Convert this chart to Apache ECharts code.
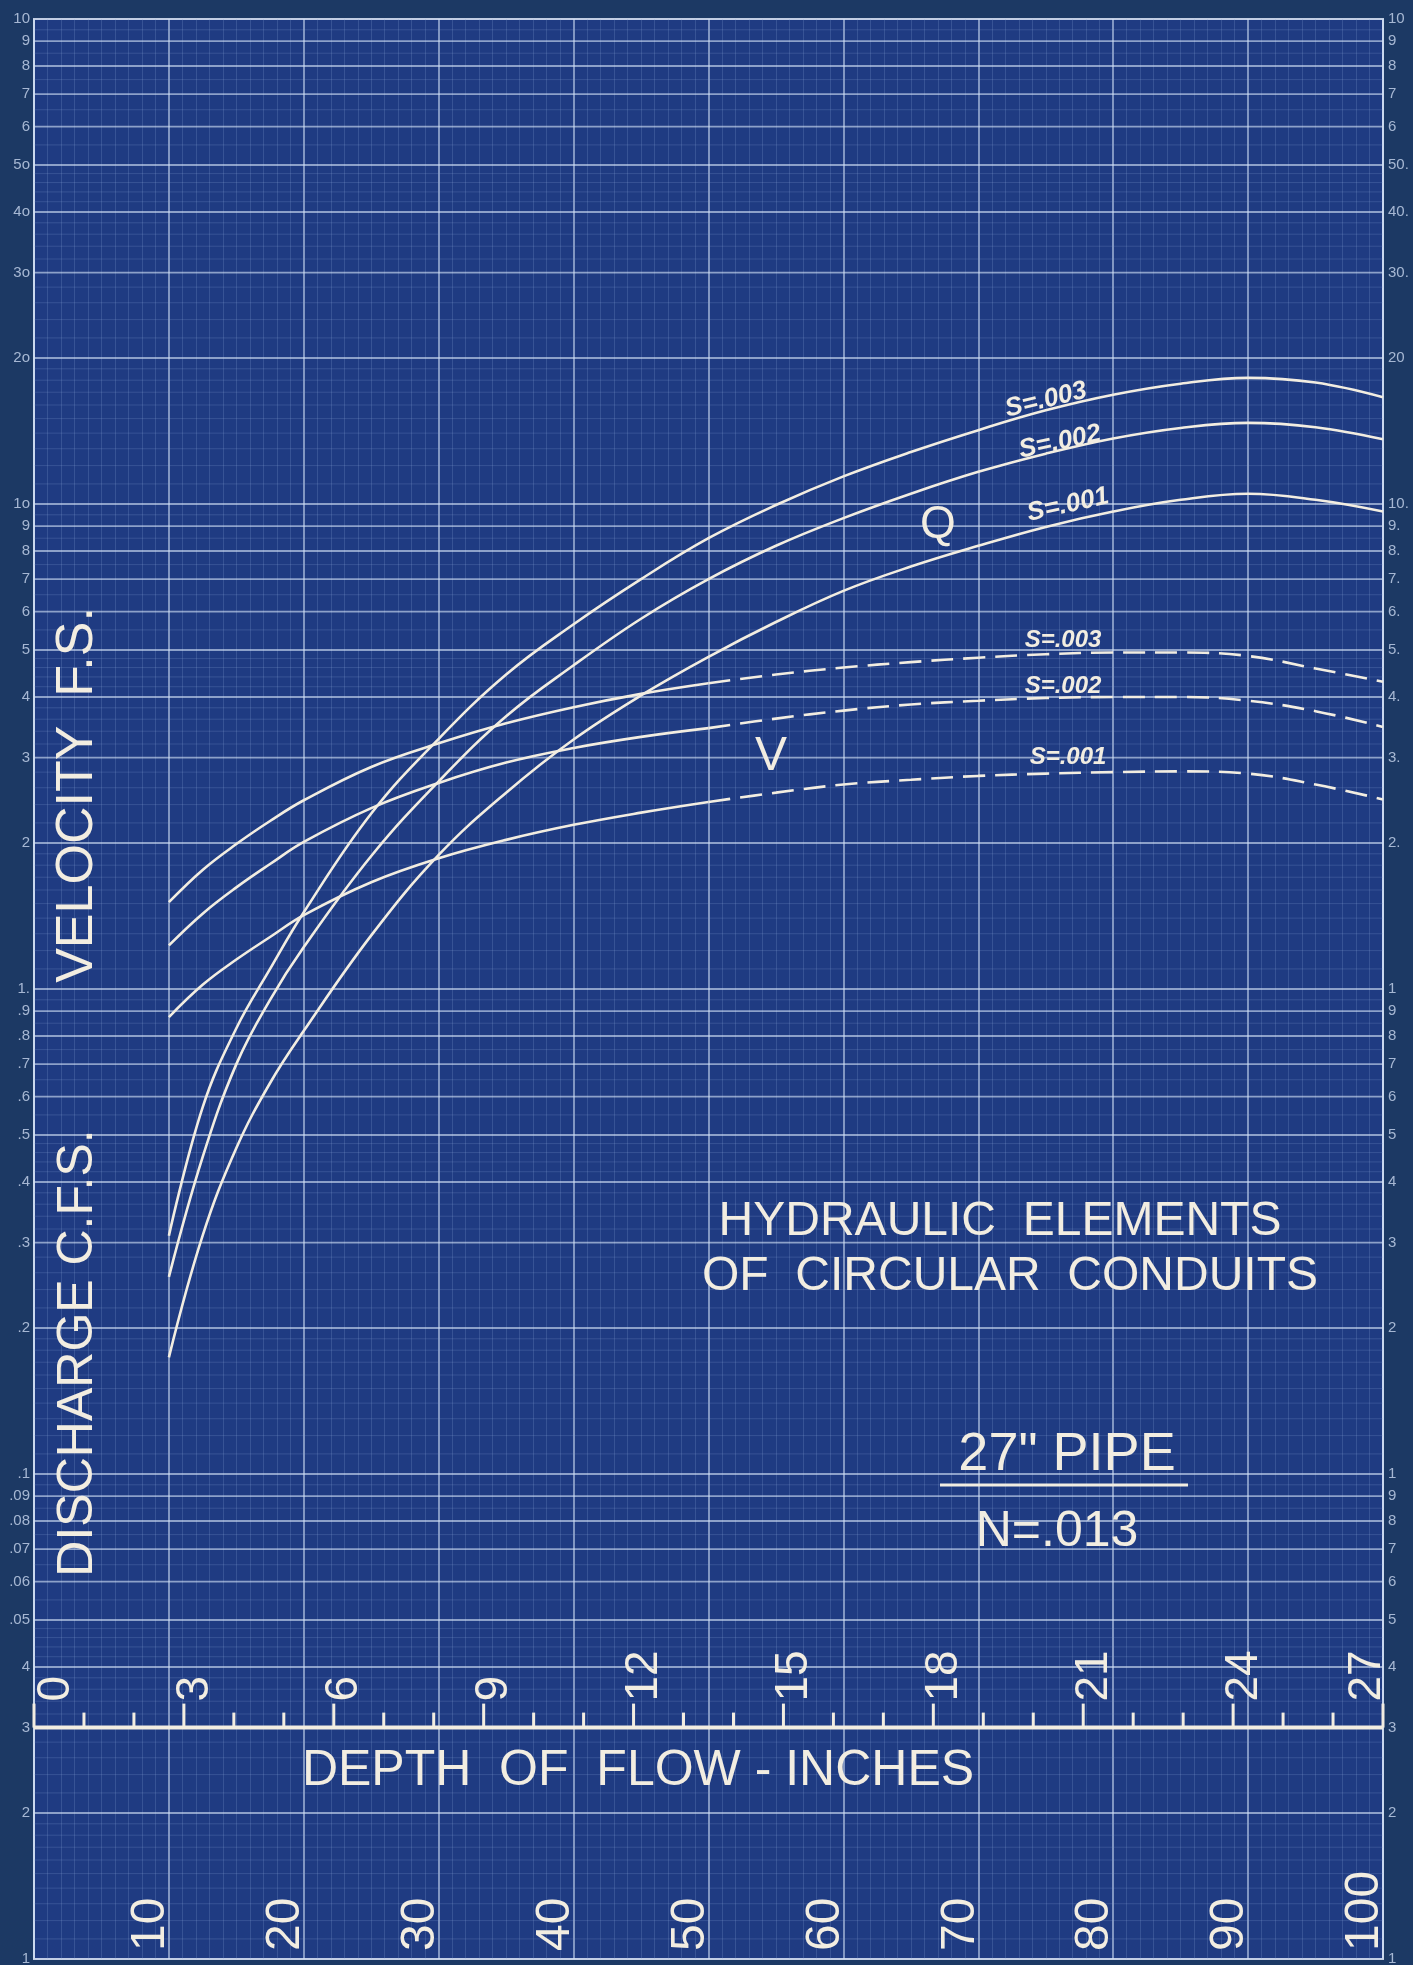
<!DOCTYPE html>
<html>
<head>
<meta charset="utf-8">
<title>Hydraulic Elements of Circular Conduits – 27" Pipe</title>
<script src="https://cdn.jsdelivr.net/npm/echarts@6/dist/echarts.min.js"></script>
<style>
  html, body { margin: 0; padding: 0; background: #1c3964; }
  #chart { width: 1413px; height: 1965px; }
</style>
</head>
<body>
<div id="chart"></div>
<script>
// Depth of flow as percent of pipe diameter (27" pipe, n = .013)
const depthPct = [10, 12.5, 15, 17.5, 20, 25, 30, 35, 40, 45, 50, 55, 60, 65, 70, 75, 80, 85, 90, 95, 100];

// Discharge, c.f.s.
const q001 = [0.174, 0.31, 0.47, 0.64, 0.82, 1.29, 1.89, 2.54, 3.27, 4.03, 4.84, 5.71, 6.62, 7.43, 8.2, 8.97, 9.65, 10.2, 10.5, 10.2, 9.65];
const q002 = [0.255, 0.45, 0.70, 0.95, 1.22, 1.88, 2.68, 3.65, 4.65, 5.8, 7.0, 8.2, 9.35, 10.5, 11.65, 12.7, 13.65, 14.35, 14.7, 14.4, 13.6];
const q003 = [0.31, 0.57, 0.83, 1.10, 1.44, 2.3, 3.28, 4.45, 5.65, 7.0, 8.5, 9.95, 11.4, 12.8, 14.2, 15.6, 16.8, 17.7, 18.2, 17.8, 16.6];

// Velocity, f.p.s.
const v001 = [0.875, 1.02, 1.15, 1.28, 1.42, 1.66, 1.86, 2.03, 2.18, 2.31, 2.43, 2.54, 2.64, 2.70, 2.75, 2.78, 2.80, 2.81, 2.78, 2.64, 2.46];
const v002 = [1.23, 1.43, 1.62, 1.81, 2.01, 2.36, 2.66, 2.93, 3.14, 3.31, 3.45, 3.61, 3.75, 3.86, 3.93, 3.98, 4.0, 4.0, 3.93, 3.74, 3.47];
const v003 = [1.51, 1.76, 1.99, 2.22, 2.45, 2.87, 3.21, 3.53, 3.81, 4.06, 4.27, 4.45, 4.60, 4.72, 4.82, 4.90, 4.94, 4.94, 4.86, 4.58, 4.30];

// velocity curves are drawn dashed beyond this depth
const dashFromPct = 50;

// Axis tick labels
const pctLabels = [10, 20, 30, 40, 50, 60, 70, 80, 90, 100];
const inchTicks = [0, 1, 2, 3, 4, 5, 6, 7, 8, 9, 10, 11, 12, 13, 14, 15, 16, 17, 18, 19, 20, 21, 22, 23, 24, 25, 26, 27];
const pipeInches = 27;
const inchAxisAt = 0.03;

const yTickVals = [100, 90, 80, 70, 60, 50, 40, 30, 20, 10, 9, 8, 7, 6, 5, 4, 3, 2, 1,
  0.9, 0.8, 0.7, 0.6, 0.5, 0.4, 0.3, 0.2, 0.1, 0.09, 0.08, 0.07, 0.06, 0.05, 0.04, 0.03, 0.02, 0.01];
const leftTickText = ['10', '9', '8', '7', '6', '5o', '4o', '3o', '2o', '1o', '9', '8', '7', '6', '5', '4', '3', '2', '1.',
  '.9', '.8', '.7', '.6', '.5', '.4', '.3', '.2', '.1', '.09', '.08', '.07', '.06', '.05', '4', '3', '2', '1'];
const rightTickText = ['10', '9', '8', '7', '6', '50.', '40.', '30.', '20', '10.', '9.', '8.', '7.', '6.', '5.', '4.', '3.', '2.', '1',
  '9', '8', '7', '6', '5', '4', '3', '2', '1', '9', '8', '7', '6', '5', '4', '3', '2', '1'];

// ---- styling ----
const ink = '#f2ede1';
const majorGrid = 'rgba(210,224,245,0.62)';
const minorGrid = 'rgba(140,170,220,0.22)';
const tickInk = 'rgba(190,206,230,0.85)';
const FONT = '"Liberation Sans", "DejaVu Sans", sans-serif';

// log-paper rulings for each decade
const majorY = [];
const minorY = [];
[0.01, 0.1, 1, 10].forEach(d => {
  for (let k = 2; k <= 9; k++) majorY.push(+(k * d).toPrecision(3));
  const sub = (a, b, s) => {
    for (let v = a + s; v < b - 1e-9; v += s) {
      if (Math.abs(v - Math.round(v)) > 1e-6) minorY.push(+(v * d).toPrecision(4));
    }
  };
  sub(1, 2, 0.1); sub(2, 5, 0.2); sub(5, 10, 0.5);
});
[0.1, 1, 10].forEach(v => majorY.push(v));

const zip = (xs, ys) => xs.map((x, i) => [x, ys[i]]);
const cut = depthPct.indexOf(dashFromPct);

function hRuleSeries(values, color, width, z) {
  return {
    type: 'custom', silent: true, z: z, clip: false,
    data: values.map(v => [0, v]),
    encode: { x: 0, y: 1 },
    renderItem: function (params, api) {
      const a = api.coord([0, api.value(1)]);
      const b = api.coord([100, api.value(1)]);
      return { type: 'line', shape: { x1: a[0], y1: a[1], x2: b[0], y2: b[1] },
        style: { stroke: color, lineWidth: width } };
    }
  };
}

function curve(name, data, dashed) {
  return {
    name: name, type: 'line', data: data, z: 6,
    smooth: 0.4, showSymbol: false, symbol: 'none', silent: true,
    lineStyle: { color: ink, width: 2.6, type: dashed ? [22, 10] : 'solid' }
  };
}

const chart = echarts.init(document.getElementById('chart'), null, { renderer: 'canvas', width: 1413, height: 1965 });

const option = {
  backgroundColor: '#1c3964',
  animation: false,
  grid: { left: 34, right: 30, top: 19, bottom: 6, show: true, backgroundColor: '#1f3b82',
    borderColor: 'rgba(222,232,248,0.85)', borderWidth: 2 },
  xAxis: {
    type: 'value', min: 0, max: 100, interval: 10,
    axisLine: { show: false }, axisTick: { show: false }, axisLabel: { show: false },
    splitLine: { show: true, lineStyle: { color: majorGrid, width: 1.8 } },
    minorTick: { show: false, splitNumber: 10 },
    minorSplitLine: { show: true, lineStyle: { color: minorGrid, width: 1 } }
  },
  yAxis: {
    type: 'log', logBase: 10, min: 0.01, max: 100,
    axisLine: { show: false }, axisTick: { show: false }, axisLabel: { show: false },
    splitLine: { show: false }
  },
  series: [
    hRuleSeries(minorY, minorGrid, 1, 1),
    hRuleSeries(majorY, majorGrid, 1.8, 2),

    // depth-of-flow (inches) scale on the .03 line
    {
      type: 'custom', silent: true, z: 4, clip: false,
      data: inchTicks.map(i => [i * 100 / pipeInches, inchAxisAt, i]),
      encode: { x: 0, y: 1 },
      renderItem: function (params, api) {
        const p = api.coord([api.value(0), api.value(1)]);
        const e = api.coord([100, inchAxisAt]);
        const inch = api.value(2);
        const major = inch % 3 === 0;
        const children = [{ type: 'line', shape: { x1: p[0], y1: p[1], x2: p[0], y2: p[1] - (major ? 24 : 15) },
          style: { stroke: ink, lineWidth: 3 } }];
        if (params.dataIndex === 0) {
          children.push({ type: 'line', shape: { x1: p[0], y1: p[1], x2: e[0], y2: e[1] },
            style: { stroke: ink, lineWidth: 4 } });
        }
        if (major) {
          // keep the last figure inside the border
          const lx = Math.min(p[0] + (inch === 0 ? 22 : 11), e[0] - 16);
          children.push({ type: 'text', x: lx, y: p[1] - 26, rotation: Math.PI / 2,
            style: { text: String(inch), fill: ink, fontSize: 46, fontFamily: FONT,
              align: 'left', verticalAlign: 'middle' } });
        }
        return { type: 'group', children: children };
      }
    },

    // percent-of-depth labels along the bottom
    {
      type: 'custom', silent: true, z: 4, clip: false,
      data: pctLabels.map(p => [p, 0.01]),
      encode: { x: 0, y: 1 },
      renderItem: function (params, api) {
        const p = api.coord([api.value(0), api.value(1)]);
        return { type: 'text', x: p[0] + 6, y: p[1] - 8, rotation: Math.PI / 2,
          style: { text: String(api.value(0)), fill: ink, fontSize: 48, fontFamily: FONT,
            align: 'left', verticalAlign: 'bottom' } };
      }
    },

    // printed log-cycle figures on both edges
    {
      type: 'custom', silent: true, z: 4, clip: false,
      data: yTickVals.map((v, i) => [0, v, i]),
      encode: { x: 0, y: 1 },
      renderItem: function (params, api) {
        const i = api.value(2);
        const l = api.coord([0, api.value(1)]);
        const r = api.coord([100, api.value(1)]);
        const st = { fill: tickInk, fontSize: 15, fontFamily: FONT, verticalAlign: 'middle' };
        return { type: 'group', children: [
          { type: 'text', x: l[0] - 4, y: l[1], style: Object.assign({ text: leftTickText[i], align: 'right' }, st) },
          { type: 'text', x: r[0] + 5, y: r[1], style: Object.assign({ text: rightTickText[i], align: 'left' }, st) }
        ] };
      }
    },

    // discharge curves
    curve('Q S=.003', zip(depthPct, q003), false),
    curve('Q S=.002', zip(depthPct, q002), false),
    curve('Q S=.001', zip(depthPct, q001), false),

    // velocity curves: solid, then dashed
    curve('V S=.003', zip(depthPct, v003).slice(0, cut + 1), false),
    curve('V S=.003 ', zip(depthPct, v003).slice(cut), true),
    curve('V S=.002', zip(depthPct, v002).slice(0, cut + 1), false),
    curve('V S=.002 ', zip(depthPct, v002).slice(cut), true),
    curve('V S=.001', zip(depthPct, v001).slice(0, cut + 1), false),
    curve('V S=.001 ', zip(depthPct, v001).slice(cut), true)
  ],
  graphic: [
    { type: 'text', x: 78, y: 795, rotation: Math.PI / 2, z: 20,
      style: { text: 'VELOCITY  F.S.', fill: ink, fontSize: 52, fontFamily: FONT, align: 'center', verticalAlign: 'middle' } },
    { type: 'text', x: 78, y: 1353, rotation: Math.PI / 2, z: 20,
      style: { text: 'DISCHARGE C.F.S.', fill: ink, fontSize: 50, fontFamily: FONT, align: 'center', verticalAlign: 'middle' } },
    { type: 'text', x: 638, y: 1771, z: 20,
      style: { text: 'DEPTH  OF  FLOW - INCHES', fill: ink, fontSize: 50, fontFamily: FONT, align: 'center', verticalAlign: 'middle' } },
    { type: 'text', x: 1000, y: 1222, z: 20,
      style: { text: 'HYDRAULIC  ELEMENTS', fill: ink, fontSize: 48, fontFamily: FONT, align: 'center', verticalAlign: 'middle' } },
    { type: 'text', x: 1010, y: 1277, z: 20,
      style: { text: 'OF  CIRCULAR  CONDUITS', fill: ink, fontSize: 48, fontFamily: FONT, align: 'center', verticalAlign: 'middle' } },
    { type: 'text', x: 1067, y: 1455, z: 20,
      style: { text: '27" PIPE', fill: ink, fontSize: 54, fontFamily: FONT, align: 'center', verticalAlign: 'middle' } },
    { type: 'line', z: 20, shape: { x1: 940, y1: 1485, x2: 1188, y2: 1485 }, style: { stroke: ink, lineWidth: 3 } },
    { type: 'text', x: 1057, y: 1532, z: 20,
      style: { text: 'N=.013', fill: ink, fontSize: 50, fontFamily: FONT, align: 'center', verticalAlign: 'middle' } },

    { type: 'text', x: 938, y: 525, z: 20,
      style: { text: 'Q', fill: ink, fontSize: 46, fontFamily: FONT, align: 'center', verticalAlign: 'middle' } },
    { type: 'text', x: 771, y: 757, z: 20,
      style: { text: 'V', fill: ink, fontSize: 48, fontFamily: FONT, align: 'center', verticalAlign: 'middle' } },

    { type: 'text', x: 1046, y: 400, rotation: 0.24, z: 20,
      style: { text: 'S=.003', fill: ink, fontSize: 26, fontStyle: 'italic', fontWeight: 'bold', fontFamily: FONT, align: 'center', verticalAlign: 'middle' } },
    { type: 'text', x: 1060, y: 442, rotation: 0.21, z: 20,
      style: { text: 'S=.002', fill: ink, fontSize: 26, fontStyle: 'italic', fontWeight: 'bold', fontFamily: FONT, align: 'center', verticalAlign: 'middle' } },
    { type: 'text', x: 1068, y: 505, rotation: 0.22, z: 20,
      style: { text: 'S=.001', fill: ink, fontSize: 26, fontStyle: 'italic', fontWeight: 'bold', fontFamily: FONT, align: 'center', verticalAlign: 'middle' } },
    { type: 'text', x: 1063, y: 640, z: 20,
      style: { text: 'S=.003', fill: ink, fontSize: 24, fontStyle: 'italic', fontWeight: 'bold', fontFamily: FONT, align: 'center', verticalAlign: 'middle' } },
    { type: 'text', x: 1063, y: 686, z: 20,
      style: { text: 'S=.002', fill: ink, fontSize: 24, fontStyle: 'italic', fontWeight: 'bold', fontFamily: FONT, align: 'center', verticalAlign: 'middle' } },
    { type: 'text', x: 1068, y: 757, z: 20,
      style: { text: 'S=.001', fill: ink, fontSize: 24, fontStyle: 'italic', fontWeight: 'bold', fontFamily: FONT, align: 'center', verticalAlign: 'middle' } }
  ]
};

chart.setOption(option);
</script>
</body>
</html>
